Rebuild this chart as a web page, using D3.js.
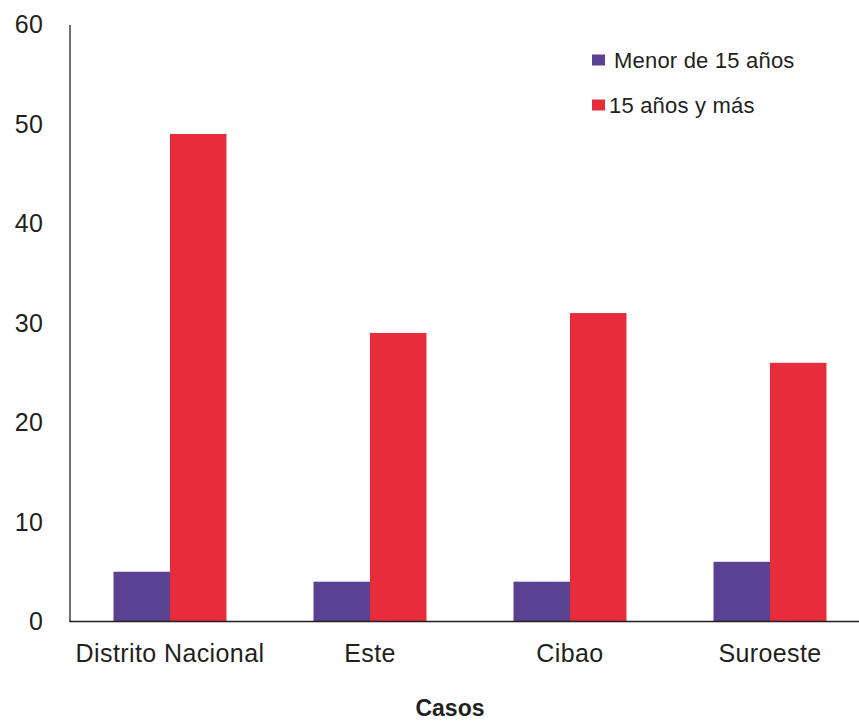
<!DOCTYPE html>
<html><head><meta charset="utf-8">
<script src="https://cdn.jsdelivr.net/npm/d3@7"></script>
<style>body{margin:0;background:#fff;} text{font-family:"Liberation Sans",Arial,sans-serif;fill:#231f20;}</style>
</head><body>
<svg id="c" width="859" height="721"></svg>
<script>
const categories = ["Distrito Nacional","Este","Cibao","Suroeste"];
const seriesNames = ["Menor de 15 años","15 años y más"];
const menor15 = [5,4,4,6];
const mayor15 = [49,29,31,26];
const yTicks = [0,10,20,30,40,50,60];
const colors = ["#5b4192","#e72d3c"];
const xTitle = "Casos";

const svg = d3.select("#c");
const y = d3.scaleLinear().domain([0,60]).range([621.5,24.5]);
const x0 = d3.scaleBand().domain(categories).range([70,870]).paddingInner(0.435).paddingOuter(0.2175);
const x1 = d3.scaleBand().domain(seriesNames).range([0,x0.bandwidth()]);
const series = [menor15, mayor15];

const g = svg.append("g");
categories.forEach((c,i)=>{
  series.forEach((s,j)=>{
    g.append("rect").attr("x",x0(c)+x1(seriesNames[j])).attr("y",y(s[i]))
     .attr("width",x1.bandwidth()).attr("height",y(0)-y(s[i])).attr("fill",colors[j]);
  });
});

// y axis
const ya = svg.append("g").attr("transform","translate(69.5,0)")
  .call(d3.axisLeft(y).tickValues(yTicks).tickSize(0).tickPadding(26));
ya.select(".domain").attr("stroke","#231f20").attr("stroke-width",1.3);
ya.selectAll("text").style("font-size","25px").style("letter-spacing","0.5px").attr("fill","#231f20");

// x axis
const xa = svg.append("g").attr("transform","translate(0,621.5)")
  .call(d3.axisBottom(x0).tickSize(0).tickPadding(23));
xa.select(".domain").attr("d","M69.5,0H870").attr("stroke","#231f20").attr("stroke-width",1.3);
xa.selectAll("text").style("font-size","25px").style("letter-spacing","0.4px").attr("fill","#231f20");

svg.append("text").attr("x",450).attr("y",716).attr("text-anchor","middle")
  .style("font-size","23px").style("font-weight","bold").text(xTitle);

// legend
const lg = svg.append("g");
const legY = [60,105];
seriesNames.forEach((n,j)=>{
  lg.append("rect").attr("x",592).attr("y",legY[j]-5.5).attr("width",13).attr("height",11).attr("fill",colors[j]);
  lg.append("text").attr("x", j===0?614:609).attr("y",legY[j]+8).style("font-size","22px").style("letter-spacing","0.2px").text(n);
});
</script>
</body></html>
